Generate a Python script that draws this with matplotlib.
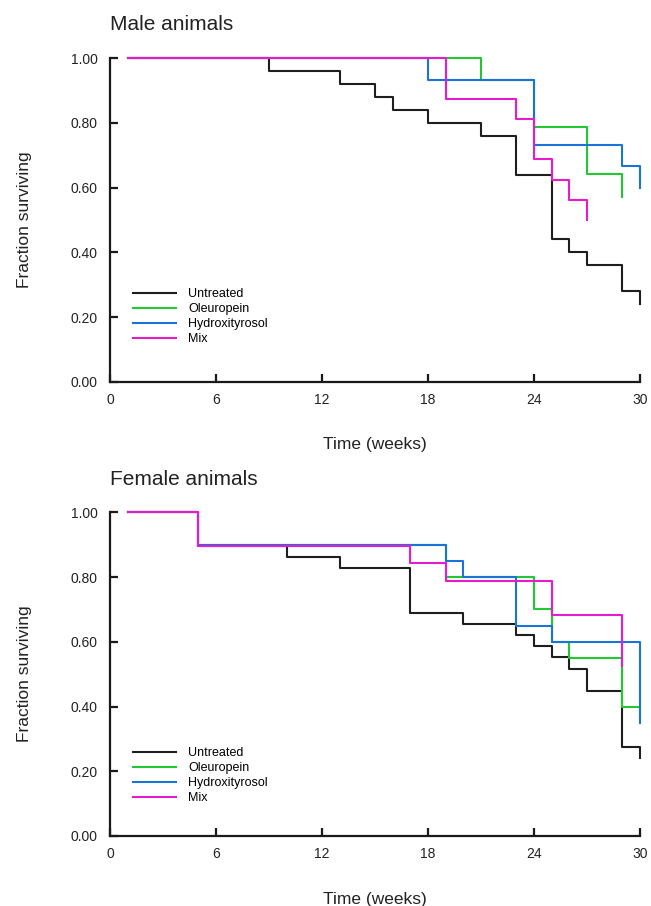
import matplotlib
matplotlib.use('Agg')
import matplotlib.pyplot as plt

plt.rcParams['font.family'] = ['Liberation Sans', 'DejaVu Sans']

# 群名と色
groups = ['Untreated', 'Oleuropein', 'Hydroxityrosol', 'Mix']
colors = ['#1e1e1e', '#22c832', '#1a74d6', '#e61ccc']

# オス (Male animals): 時間 (週) と生存率
male_untreated_t = [1, 9, 13, 15, 16, 18, 21, 23, 25, 26, 27, 29, 30]
male_untreated_s = [1.00, 0.96, 0.92, 0.88, 0.84, 0.80, 0.76, 0.64, 0.44, 0.40, 0.36, 0.28, 0.24]
male_oleu_t = [1, 21, 24, 27, 29]
male_oleu_s = [1.00, 0.933, 0.786, 0.643, 0.571]
male_hydro_t = [1, 18, 24, 29, 30]
male_hydro_s = [1.00, 0.933, 0.733, 0.667, 0.600]
male_mix_t = [1, 19, 23, 24, 25, 26, 27]
male_mix_s = [1.00, 0.875, 0.8125, 0.6875, 0.625, 0.5625, 0.50]

# メス (Female animals)
female_untreated_t = [1, 5, 10, 13, 17, 20, 23, 24, 25, 26, 27, 29, 30]
female_untreated_s = [1.00, 0.897, 0.862, 0.828, 0.690, 0.655, 0.621, 0.586, 0.552, 0.517, 0.448, 0.276, 0.241]
female_oleu_t = [1, 5, 19, 24, 25, 26, 29, 30]
female_oleu_s = [1.00, 0.90, 0.80, 0.70, 0.60, 0.55, 0.40, 0.40]
female_hydro_t = [1, 5, 19, 20, 23, 25, 30]
female_hydro_s = [1.00, 0.90, 0.85, 0.80, 0.65, 0.60, 0.35]
female_mix_t = [1, 5, 17, 19, 25, 29]
female_mix_s = [1.00, 0.895, 0.842, 0.789, 0.684, 0.526]

x_ticks = [0, 6, 12, 18, 24, 30]
y_ticks = [0.0, 0.2, 0.4, 0.6, 0.8, 1.0]

panels = [
    ('Male animals', [(male_untreated_t, male_untreated_s), (male_oleu_t, male_oleu_s),
                      (male_hydro_t, male_hydro_s), (male_mix_t, male_mix_s)],
     [0.169, 0.5787, 0.814, 0.357], 0.29),
    ('Female animals', [(female_untreated_t, female_untreated_s), (female_oleu_t, female_oleu_s),
                        (female_hydro_t, female_hydro_s), (female_mix_t, female_mix_s)],
     [0.169, 0.0773, 0.814, 0.3572], 0.275),
]

fig = plt.figure(figsize=(6.51, 9.06), dpi=100)

for title, series, rect, leg_top in panels:
    ax = fig.add_axes(rect)
    for (t, s), name, c in zip(series, groups, colors):
        ax.step(t, s, where='post', color=c, lw=1.5, label=name, clip_on=False)

    ax.set_xlim(0, 30)
    ax.set_ylim(0, 1)
    ax.set_xticks(x_ticks)
    ax.set_yticks(y_ticks)
    ax.set_yticklabels([f'{v:.2f}' for v in y_ticks])
    for side in ['top', 'right']:
        ax.spines[side].set_visible(False)
    for side in ['left', 'bottom']:
        ax.spines[side].set_linewidth(1.6)
        ax.spines[side].set_color('#1a1a1a')
    ax.tick_params(direction='in', length=6, width=1.6, color='#1a1a1a',
                   labelsize=10, labelcolor='#222222')
    ax.tick_params(axis='y', pad=9)
    ax.tick_params(axis='x', pad=8)

    ax.set_ylabel('Fraction surviving', fontsize=12.5, color='#222222', labelpad=28)
    ax.set_xlabel('Time (weeks)', fontsize=12.5, color='#222222', labelpad=22)
    ax.set_title(title, loc='left', fontsize=15, color='#222222', pad=20)

    ax.legend(loc='upper left', bbox_to_anchor=(0.043, leg_top), frameon=False,
              fontsize=9, handlelength=3.45, handletextpad=1.0,
              labelspacing=0.24, borderpad=0, borderaxespad=0)

fig.savefig('out.png', dpi=100)
